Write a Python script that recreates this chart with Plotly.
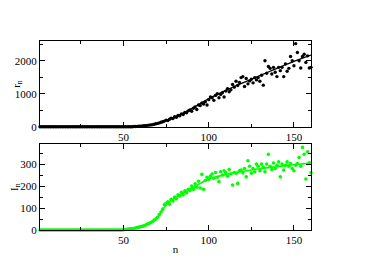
import plotly.graph_objects as go

# ---------------- data ----------------
n_zero_r = list(range(1, 56))
r_zero = [0] * len(n_zero_r)
n_r = list(range(56, 161))
r_vals = [5, 8, 10, 14, 18, 22, 28, 32, 40, 48, 55, 62, 75, 88, 100, 115, 135, 150, 170, 200,
          185, 225, 260, 245, 300, 285, 340, 330, 390, 370, 430, 420, 480, 510, 470, 560, 600, 520, 660, 640,
          720, 690, 760, 660, 820, 900, 880, 800, 950, 1000, 880, 980, 1030, 900, 1080, 1150, 1060, 1120, 1280, 1200,
          1380, 1250, 1340, 1490, 1520, 1220, 1460, 1300, 1390, 1440, 1330, 1490, 1420, 1490, 1380, 1560, 1260, 2000, 1620, 1830,
          1770, 1600, 1800, 1650, 1520, 1800, 1700, 1800, 1520, 1900, 1680, 1770, 2130, 2000, 1850, 2520, 2250, 2000, 1780, 2130,
          2200, 1950, 2150, 1780, 1800]
n_r_fit = [1, 10, 20, 30, 40, 50, 55, 60, 65, 70, 75, 80, 85, 90, 95, 100, 105, 110, 115, 120,
           125, 130, 135, 140, 145, 150, 155, 160]
r_fit = [0, 0, 0, 0, 0, 0, 3, 15, 45, 100, 190, 290, 410, 550, 700, 850, 980, 1100, 1220, 1330,
         1440, 1550, 1660, 1770, 1880, 1980, 2080, 2170]

n_zero_i = list(range(1, 50))
i_zero = [0] * len(n_zero_i)
n_i = list(range(50, 161))
i_vals = [1, 2, 3, 4, 5, 6, 7, 9, 11, 13, 15, 17, 19, 23, 27, 30, 34, 39, 45, 50,
          58, 70, 82, 95, 115, 122, 128, 118, 140, 132, 150, 142, 160, 155, 172, 160, 178, 170, 185, 180,
          200, 185, 210, 195, 222, 191, 253, 185, 225, 240, 230, 245, 255, 235, 262, 240, 220, 265, 250, 270,
          262, 245, 275, 255, 205, 262, 258, 212, 270, 273, 260, 280, 242, 315, 290, 258, 280, 265, 300, 290,
          270, 300, 285, 265, 300, 345, 290, 275, 305, 280, 295, 310, 242, 300, 273, 295, 310, 290, 303, 280,
          270, 295, 303, 330, 290, 376, 345, 232, 356, 306, 260]
n_i_fit = [1, 10, 20, 30, 40, 50, 55, 60, 65, 68, 70, 72, 74, 76, 78, 80, 85, 90, 95, 100,
           105, 110, 115, 120, 125, 130, 135, 140, 145, 150, 155, 160]
i_fit = [0, 0, 0, 0, 0, 1, 5, 14, 30, 44, 58, 80, 103, 122, 135, 145, 168, 190, 212, 232,
         243, 252, 260, 267, 273, 279, 284, 288, 293, 297, 301, 305]

x_ticks = [50, 100, 150]
r_ticks = [0, 1000, 2000]
i_ticks = [0, 100, 200, 300]

GREEN = "#00ff00"
FONT = "Liberation Serif, Times New Roman, serif"

fig = go.Figure()
fig.add_trace(go.Scatter(x=n_zero_r + n_r, y=r_zero + r_vals, mode="markers",
                         marker=dict(color="black", size=3.4), cliponaxis=False,
                         xaxis="x", yaxis="y", showlegend=False))
fig.add_trace(go.Scatter(x=n_r_fit, y=r_fit, mode="lines",
                         line=dict(color="black", width=1.3, shape="spline"),
                         xaxis="x", yaxis="y", showlegend=False))
fig.add_trace(go.Scatter(x=n_zero_i + n_i, y=i_zero + i_vals, mode="markers",
                         marker=dict(color=GREEN, size=3.6), cliponaxis=False,
                         xaxis="x2", yaxis="y2", showlegend=False))
fig.add_trace(go.Scatter(x=n_i_fit, y=i_fit, mode="lines",
                         line=dict(color=GREEN, width=1.6, shape="spline"),
                         xaxis="x2", yaxis="y2", showlegend=False))

common = dict(showline=True, linecolor="black", linewidth=1, mirror="allticks",
              ticks="inside", ticklen=5, tickcolor="black", tickwidth=1,
              showgrid=False, zeroline=False, automargin=False,
              tickfont=dict(family=FONT, size=11, color="black"))

fig.update_layout(
    width=374, height=264,
    margin=dict(l=32, r=71, t=33, b=42),
    paper_bgcolor="white", plot_bgcolor="white",
    font=dict(family=FONT, size=11, color="black"),
    xaxis=dict(range=[1, 160], tickvals=x_ticks, anchor="y",
               minor=dict(ticks="inside", ticklen=3, tickcolor="black", tickvals=[25, 75, 125]),
               **common),
    yaxis=dict(range=[0, 2600], tickvals=r_ticks, domain=[0.5466, 1], anchor="x",
               minor=dict(ticks="inside", ticklen=3, tickcolor="black", tickvals=[500, 1500, 2500]),
               **common),
    xaxis2=dict(range=[1, 160], tickvals=x_ticks, anchor="y2",
                minor=dict(ticks="inside", ticklen=3, tickcolor="black", tickvals=[25, 75, 125]),
                title=dict(text="n", font=dict(family=FONT, size=11), standoff=0),
                **common),
    yaxis2=dict(range=[0, 390], tickvals=i_ticks, domain=[0, 0.4534], anchor="x2",
                minor=dict(ticks="inside", ticklen=3, tickcolor="black", tickvals=[50, 150, 250, 350]),
                title=dict(text="I<sub>n</sub>", font=dict(family=FONT, size=11), standoff=3),
                **common),
    annotations=[dict(text="r<sub>n</sub>", textangle=-90, xref="paper", yref="paper",
                      x=-0.085, y=0.773, xanchor="center", yanchor="middle", showarrow=False,
                      font=dict(family=FONT, size=11, color="black"))],
)

fig.write_html("out.html")
